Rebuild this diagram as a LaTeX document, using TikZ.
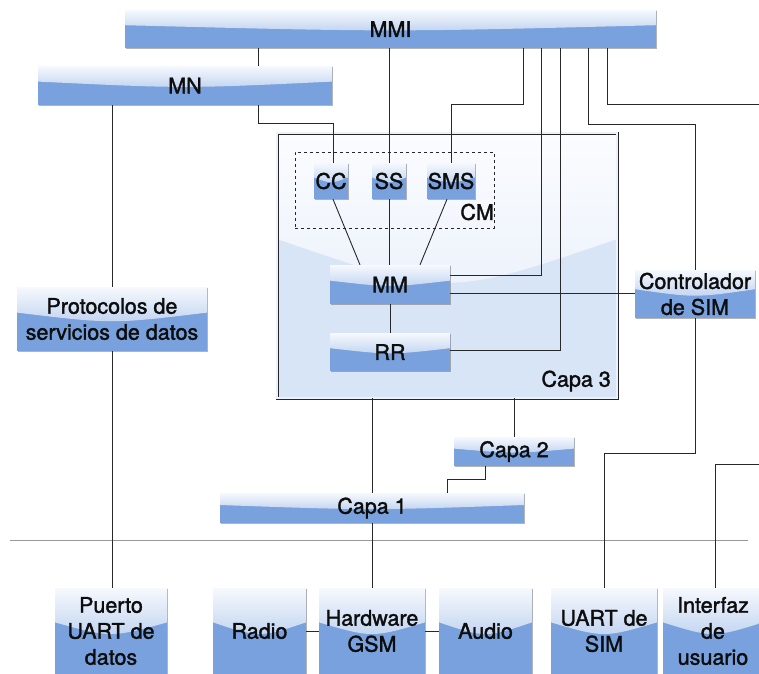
\documentclass[tikz,border=0pt]{standalone}
\usepackage{fontspec}
\setmainfont{TeX Gyre Heros}
\newfontfamily\boxfont{TeX Gyre Heros}[FakeBold=1.6]
\usetikzlibrary{calc,shadows}
\definecolor{boxblue}{RGB}{120,161,222}
\definecolor{glossTop}{RGB}{246,249,253}
\definecolor{glossBot}{RGB}{192,211,240}
\definecolor{capaBlue}{RGB}{216,229,247}
\definecolor{capaTop}{RGB}{251,252,255}
\definecolor{capaMid}{RGB}{236,242,251}
\definecolor{lineCol}{RGB}{40,40,40}
\begin{document}
\begin{tikzpicture}[x=1pt,y=-1pt,
  conn/.style={draw=lineCol, line width=0.9pt},
  gbox/.style={fill=boxblue, draw=none, inner sep=0pt, align=center,
    text=black!95, font=\boxfont\fontsize{21.5}{26}\selectfont,
    drop shadow={shadow xshift=0.8pt, shadow yshift=-1.3pt, opacity=0.45, fill=black!65},
    path picture={
      \coordinate (gNW) at (path picture bounding box.north west);
      \coordinate (gSE) at (path picture bounding box.south east);
      \coordinate (gL) at ($(gNW)!0.40!(gSE)$);
      \coordinate (gM) at ($(gNW)!0.58!(gSE)$);
      \coordinate (gC) at ($(gNW)!0.5!(gSE)$);
      \fill[top color=glossTop, bottom color=glossBot]
        (gNW) -- (gNW -| gSE) -- (gL -| gSE) .. controls (gC |- gM) .. (gL -| gNW) -- cycle;
    }},
  capabox/.style={fill=capaBlue, draw=black!85, line width=0.7pt, double=capaMid, double distance=1.6pt,
    inner sep=0pt,
    drop shadow={shadow xshift=0.8pt, shadow yshift=-1.3pt, opacity=0.35, fill=black!60},
    path picture={
      \coordinate (gNW) at (path picture bounding box.north west);
      \coordinate (gSE) at (path picture bounding box.south east);
      \coordinate (gL) at ($(gNW)!0.40!(gSE)$);
      \coordinate (gM) at ($(gNW)!0.62!(gSE)$);
      \coordinate (gC) at ($(gNW)!0.5!(gSE)$);
      \fill[top color=capaTop, bottom color=capaMid]
        (gNW) -- (gNW -| gSE) -- (gL -| gSE) .. controls (gC |- gM) .. (gL -| gNW) -- cycle;
    }},
  cmbox/.style={draw=black!85, dashed, line width=0.6pt, inner sep=0pt},
  lbl/.style={inner sep=0pt, text=black!95, font=\boxfont\fontsize{21.5}{26}\selectfont},
]
\useasboundingbox (0,0) rectangle (759,673);

% Capa 3 container and CM group
\node[capabox, minimum width=340pt, minimum height=265pt] (Capa3) at (447,265.5) {};
\node[cmbox, minimum width=199pt, minimum height=76pt] (CM) at (394.5,190) {};
\node[lbl, anchor=east] (CMlbl) at (494,212) {CM};
\node[lbl, anchor=east] (Capa3lbl) at (611,381) {Capa 3};

% separator
\coordinate (sepL) at (10,540);
\coordinate (sepR) at (748,540);
\draw[black!40, line width=0.6pt] (sepL) -- (sepR);

% boxes
\node[gbox, minimum width=531pt, minimum height=38pt] (MMI) at (390.5,29) {MMI};
\node[gbox, minimum width=294pt, minimum height=39pt] (MN) at (185,85.5) {MN};
\node[gbox, minimum width=190pt, minimum height=64pt] (Prot) at (112,319) {Protocolos de\\servicios de datos};
\node[gbox, minimum width=34pt, minimum height=36pt] (CC) at (331,181) {CC};
\node[gbox, minimum width=34pt, minimum height=36pt] (SS) at (389,181) {SS};
\node[gbox, minimum width=48pt, minimum height=36pt] (SMS) at (451,181) {SMS};
\node[gbox, minimum width=120pt, minimum height=39pt] (MM) at (390,284.5) {MM};
\node[gbox, minimum width=120pt, minimum height=38pt] (RR) at (390,352) {RR};
\node[gbox, minimum width=120pt, minimum height=48pt] (Ctrl) at (695,294) {Controlador\\de SIM};
\node[gbox, minimum width=120pt, minimum height=29pt] (Capa2) at (514,451.5) {Capa 2};
\node[gbox, minimum width=304pt, minimum height=30pt] (Capa1) at (372,508) {Capa 1};
\node[gbox, minimum width=112pt, minimum height=86pt] (Puerto) at (111,631) {Puerto\\UART de\\datos};
\node[gbox, minimum width=93pt, minimum height=86pt] (Radio) at (259.5,631) {Radio};
\node[gbox, minimum width=106pt, minimum height=86pt] (HW) at (372,631) {Hardware\\GSM};
\node[gbox, minimum width=93pt, minimum height=86pt] (Audio) at (485.5,631) {Audio};
\node[gbox, minimum width=106pt, minimum height=86pt] (USIM) at (604,631) {UART de\\SIM};
\node[gbox, minimum width=100pt, minimum height=86pt] (UI) at (713,631) {Interfaz\\de\\usuario};

% helper x positions
\coordinate (xA) at (258,0);
\coordinate (xB) at (523,0);
\coordinate (xC) at (541,0);
\coordinate (xD) at (560,0);
\coordinate (xE) at (588,0);
\coordinate (xF) at (607,0);
\coordinate (xH) at (447,0);
\coordinate (offR1) at (759,104);
\coordinate (offR2) at (759,464);

% connectors
\draw[conn] (MMI.south -| xA) -- (MN.north -| xA);
\draw[conn] (MN.south -| xA) -- ++(0,18) -| ([xshift=2pt]CC.north);
\draw[conn] (MMI.south -| SS.north) -- (SS.north);
\draw[conn] (MMI.south -| xB) -- ++(0,56) -| (SMS.north);
\draw[conn] (MMI.south -| xC) |- ([yshift=9pt]MM.east);
\draw[conn] (MMI.south -| xD) |- ([yshift=1.5pt]RR.east);
\draw[conn] (MMI.south -| xE) -- ++(0,76) -| (Ctrl.north);
\draw[conn] (MMI.south -| xF) |- (offR1);
\draw[conn] (offR2) -| ([xshift=2pt]UI.north);
\draw[conn] (MN.south -| Prot.north) -- (Prot.north);
\draw[conn] (Prot.south) -- (Puerto.north -| Prot.south);
\draw[conn] ([xshift=2pt]CC.south) -- ([xshift=-30pt]MM.north);
\draw[conn] (SS.south) -- (SS.south |- MM.north);
\draw[conn] ([xshift=-4pt]SMS.south) -- ([xshift=30pt]MM.north);
\draw[conn] (MM.south) -- (RR.north);
\draw[conn] ([yshift=-8.5pt]MM.east) -- ([yshift=-8.5pt]MM.east -| Ctrl.west);
\draw[conn] (Ctrl.south) -- ++(0,135) -| (USIM.north);
\draw[conn] (Capa3.south -| Capa1.north) -- (Capa1.north);
\draw[conn] (Capa3.south -| Capa2.north) -- (Capa2.north);
\draw[conn] ([xshift=-29pt]Capa2.south) -- ++(0,13) -| (Capa1.north -| xH);
\draw[conn] (Capa1.south) -- (HW.north);
\draw[conn] (Radio.east) -- (HW.west);
\draw[conn] (HW.east) -- (Audio.west);
\end{tikzpicture}
\end{document}
